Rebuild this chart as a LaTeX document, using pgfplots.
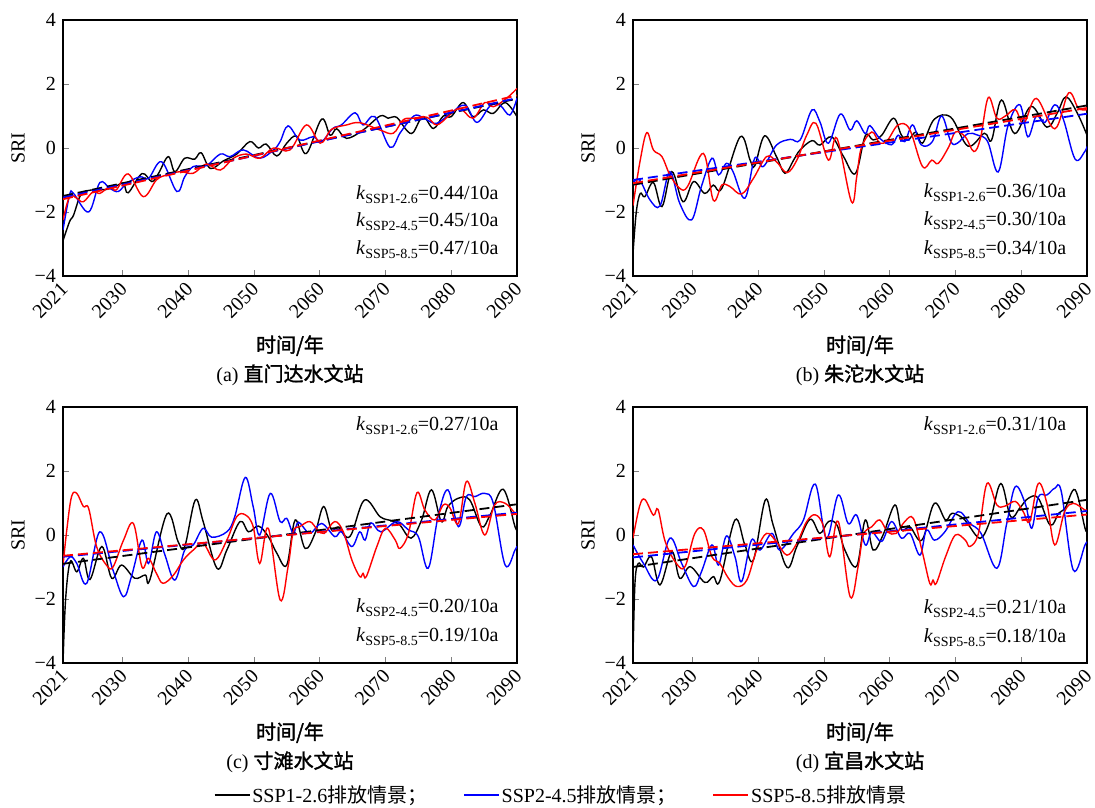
\documentclass[border=0pt]{standalone}
\usepackage{fontspec}
\setmainfont{Liberation Serif}
\newfontfamily\cjk{Noto Sans CJK SC}
\newfontfamily\cjkb{Noto Sans CJK SC}[FakeBold=1.6]
\usepackage{pgfplots}
\pgfplotsset{compat=1.18}
\newcommand{\kk}[2]{\textit{k}\raisebox{-0.45ex}{\scriptsize SSP#1}=#2/10a}
\pgfplotsset{
  myax/.style={
    scale only axis, width=227pt, height=128pt,
    xmin=2021, xmax=2090, ymin=-4, ymax=4,
    xtick={2021,2030,2040,2050,2060,2070,2080,2090},
    xticklabels={2021,2030,2040,2050,2060,2070,2080,2090},
    ytick={-4,-2,0,2,4},
    yticklabels={−4,−2,0,2,4},
    tick pos=left, tick align=inside,
    major tick length=3pt,
    x tick label style={rotate=45, anchor=north east, inner sep=0.5pt, xshift=-2.5pt},
    ylabel={SRI},
    ylabel style={at={(axis description cs:-0.099,0.5)}, anchor=center},
    xlabel style={at={(axis description cs:0.5,-0.33)}, anchor=center, align=center},
    axis line style={line width=0.6pt},
    every axis plot/.append style={line width=0.7pt},
  },
  tr/.style={line width=0.9pt, dash pattern=on 5pt off 2.5pt, forget plot},
  cv/.style={smooth, tension=0.6, mark=none},
}
\begin{document}
\begin{tikzpicture}
\path[use as bounding box] (0,0) rectangle (547.5pt,-403.5pt);
% ---------------- (a)
\begin{axis}[myax, at={(31.5pt,-10pt)}, anchor=north west,
  xlabel={{\cjkb 时间/年}\\[2.5pt](a) {\cjkb 直门达水文站}}]
\addplot[cv, black] coordinates {(2021,-2.9) (2022,-2.3) (2022.6,-2.1) (2023.6,-1.5) (2024.5,-1.35) (2026,-1.3) (2027.5,-1.3) (2029,-1.2) (2030.2,-1.1) (2030.9,-1.4) (2033,-0.8) (2034.5,-1.05) (2035.5,-0.8) (2037,-0.27) (2038,-0.74) (2039.5,-0.32) (2041,-0.35) (2042,-0.15) (2043.4,-0.64) (2045.4,-0.4) (2047.4,-0.19) (2049.4,0.2) (2050.7,0) (2051.9,0.12) (2053.5,-0.25) (2055,0.15) (2056.5,0.37) (2058,-0.17) (2060.3,0.9) (2061.6,0.4) (2062.6,0.6) (2064.1,0.3) (2066.6,0.56) (2069.2,1.0) (2070.4,0.93) (2071.7,0.96) (2073.2,0.56) (2074.2,0.48) (2075.7,0.98) (2077.3,0.61) (2078.8,1.0) (2080,0.98) (2081.8,1.42) (2083.3,0.98) (2084.9,1.19) (2086.4,1.08) (2088.2,1.42) (2090,0.98)};
\addplot[cv, blue] coordinates {(2021,-2.56) (2022,-1.47) (2022.6,-1.42) (2024.9,-2.0) (2026.6,-1.08) (2028.1,-1.26) (2029.4,-1.36) (2030.7,-1.1) (2032.7,-0.9) (2034,-0.95) (2036,-0.43) (2038.3,-1.36) (2039.5,-0.9) (2040.8,-0.58) (2042.8,-0.55) (2044.9,-0.19) (2046.4,-0.27) (2048.4,-0.06) (2050.9,-0.32) (2053,-0.06) (2054,0.2) (2055.2,0.69) (2057,0.25) (2059,0.35) (2060.3,0.2) (2062,0.61) (2063.3,0.72) (2065.4,1.1) (2066.6,0.72) (2068.4,0.98) (2070.7,0.02) (2072.2,0.46) (2073.5,0.82) (2074.7,1.03) (2076.3,0.88) (2077.8,0.77) (2079.8,1.06) (2082.1,1.34) (2083.9,0.8) (2085.9,1.31) (2087.4,1.34) (2088.9,1.03) (2090,1.55)};
\addplot[cv, red] coordinates {(2021,-2.25) (2022,-1.52) (2023.1,-1.57) (2024.1,-1.68) (2025.6,-1.36) (2026.6,-1.42) (2028.1,-1.21) (2029.1,-1.31) (2030.9,-0.81) (2033.2,-1.52) (2035.2,-1.0) (2036.8,-0.84) (2038.8,-0.74) (2040.8,-0.79) (2042.8,-0.5) (2044.9,-0.69) (2046.9,-0.32) (2048.9,-0.19) (2050.9,-0.32) (2053,0) (2055.5,-0.06) (2058,0.72) (2060.1,0.15) (2061.8,0.58) (2064.1,0.72) (2066.1,0.79) (2069.2,0.56) (2071.2,0.46) (2072.7,0.88) (2074.2,0.93) (2076.3,0.96) (2077.8,0.72) (2079.6,1.0) (2081.3,1.24) (2083.3,0.93) (2085.1,1.42) (2086.4,1.29) (2088.4,1.55) (2090,1.86)};
\addplot[tr, black] coordinates {(2021,-1.5) (2090,1.54)};
\addplot[tr, blue] coordinates {(2021,-1.55) (2090,1.56)};
\addplot[tr, red] coordinates {(2021,-1.6) (2090,1.64)};
\node[anchor=east] at (rel axis cs:0.975,0.316) {\kk{1-2.6}{0.44}};
\node[anchor=east] at (rel axis cs:0.975,0.213) {\kk{2-4.5}{0.45}};
\node[anchor=east] at (rel axis cs:0.975,0.102) {\kk{5-8.5}{0.47}};
\end{axis}
% ---------------- (b)
\begin{axis}[myax, at={(316.5pt,-10pt)}, anchor=north west,
  xlabel={{\cjkb 时间/年}\\[2.5pt](b) {\cjkb 朱沱水文站}}]
\addplot[cv, black] coordinates {(2021,-3.3) (2021.5,-2.0) (2022.1,-1.42) (2022.8,-1.52) (2024.1,-1.08) (2025.4,-1.83) (2026.9,-0.74) (2028.6,-1.68) (2030.2,-1.05) (2031.9,-1.42) (2033.2,-1.16) (2034.5,-1.26) (2037.3,0.35) (2038.8,-0.38) (2039.5,-0.56) (2041,0.38) (2042.8,-0.27) (2044.1,-0.79) (2045.4,-0.38) (2046.4,-0.06) (2048.2,0.23) (2049.4,0.09) (2051.2,0.35) (2053,-0.27) (2054.8,-0.8) (2056.3,0.38) (2057.5,0.25) (2058.8,0.4) (2060.6,0.93) (2061.8,0.4) (2062.8,0.25) (2064,0.5) (2065,0.15) (2066.8,0.9) (2069.3,0.96) (2071.9,0.06) (2074.4,0.46) (2075.5,0.25) (2077,1.5) (2079,0.45) (2081.5,1.3) (2083.9,0.65) (2085.5,1.1) (2086.8,1.6) (2088.5,1.1) (2090,0.4)};
\addplot[cv, blue] coordinates {(2021,-1.1) (2022,-1.0) (2023.6,-1.63) (2025.1,-1.81) (2026.6,-0.74) (2028.1,-1.73) (2029.9,-2.25) (2031.4,-1.2) (2033,-0.32) (2034,-0.84) (2035.2,-0.48) (2036.2,-0.74) (2038,-1.57) (2039.5,-0.32) (2040.8,-0.58) (2042.8,0.09) (2044.9,0.27) (2046.4,0.25) (2048.2,1.19) (2049.4,0.82) (2050.7,0.15) (2052.5,1.06) (2054,0.56) (2055,0.85) (2056.3,0.45) (2057,0.7) (2058.5,0.3) (2060.3,0.1) (2061.3,0.4) (2062.3,0.2) (2063.5,0.72) (2064.8,0.1) (2066.5,0.2) (2067.9,1.0) (2069.3,0.2) (2070.3,0.15) (2071.9,0.45) (2073.4,0.4) (2074.9,0.2) (2076.5,-0.75) (2078,0.7) (2079.8,1.35) (2081,0.35) (2082.3,1.0) (2083.6,0.8) (2085.1,1.35) (2086.4,0.9) (2088.2,-0.35) (2089.7,-0.1) (2090,0.05)};
\addplot[cv, red] coordinates {(2021,-1.8) (2022.1,-0.38) (2023.1,0.48) (2024.1,-0.06) (2025.4,-0.27) (2026.6,-0.84) (2028.1,-1.26) (2029.3,-1.2) (2031.7,-0.17) (2033.2,-1.63) (2034.5,-1.16) (2035.7,-1.2) (2037.5,-1.44) (2039.3,-0.95) (2041.3,-0.27) (2042.8,-0.43) (2044.4,-0.77) (2045.9,-0.38) (2047.4,0.4) (2048.8,0.77) (2050.7,-0.38) (2052,0.3) (2054.2,-1.68) (2055,-0.9) (2055.7,0) (2057.3,0.5) (2058.5,0.15) (2059.7,0.25) (2061.3,0.72) (2063,0.6) (2065,-0.58) (2066.4,-0.38) (2067.4,-0.48) (2069,0.04) (2070,0.5) (2071.5,0.35) (2072.8,-0.11) (2073.8,0.3) (2075,1.58) (2076.3,0.93) (2077.6,1.0) (2079.1,1.2) (2080.4,0.77) (2082.3,1.55) (2085.1,0.6) (2087.2,1.72) (2088.7,1.24) (2090,1.2)};
\addplot[tr, black] coordinates {(2021,-1.15) (2090,1.33)};
\addplot[tr, blue] coordinates {(2021,-1.0) (2090,1.07)};
\addplot[tr, red] coordinates {(2021,-1.1) (2090,1.25)};
\node[anchor=east] at (rel axis cs:0.97,0.326) {\kk{1-2.6}{0.36}};
\node[anchor=east] at (rel axis cs:0.97,0.215) {\kk{2-4.5}{0.30}};
\node[anchor=east] at (rel axis cs:0.97,0.104) {\kk{5-8.5}{0.34}};
\end{axis}
% ---------------- (c)
\begin{axis}[myax, at={(31.5pt,-203.5pt)}, anchor=north west,
  xlabel={{\cjkb 时间/年}\\[2.5pt](c) {\cjkb 寸滩水文站}},
  legend columns=3,
  legend style={at={(axis description cs:1.097,-0.516)}, anchor=center, draw=none, fill=none,
    /tikz/every even column/.append style={column sep=17pt},
    nodes={inner sep=1pt}},
  legend image code/.code={\draw[#1, line width=0.7pt] (0pt,0pt) -- (17.5pt,0pt);}]
\addplot[cv, black] coordinates {(2021,-4.0) (2021.4,-2.0) (2022.1,-0.83) (2023.1,-1.15) (2024.1,-0.73) (2025.1,-1.39) (2026.9,-0.36) (2028.4,-1.35) (2029.9,-0.94) (2031.9,-1.35) (2033.5,-1.25) (2034.2,-1.4) (2036.8,0.66) (2038.5,-0.21) (2039.5,-0.36) (2041.1,1.09) (2042.3,0.42) (2044.4,-1.04) (2045.9,-0.47) (2047.9,0.42) (2049.2,0.1) (2050.7,0.28) (2052.2,-0.05) (2053.5,-0.57) (2055,-0.94) (2056.3,0.47) (2057.8,-0.42) (2059.3,0.05) (2060.6,0.89) (2061.8,0.16) (2062.8,0.25) (2064.6,-0.05) (2066.8,1.09) (2069.2,0.57) (2070.9,0.45) (2072.2,0.31) (2073.9,-0.1) (2075.5,0.47) (2077,1.41) (2078.5,0.42) (2079.5,0.89) (2081.1,1.15) (2082.8,1.1) (2084.6,0.26) (2085.9,0.62) (2087.9,1.43) (2089.7,0.26) (2090,0.2)};
\addlegendentry{SSP1-2.6{\cjk 排放情景；}}
\addplot[cv, blue] coordinates {(2021,-1.0) (2022.1,-0.68) (2023.1,-0.89) (2024.6,-1.51) (2026.6,0.1) (2028.6,-1.1) (2030.2,-1.93) (2031.4,-1.3) (2033,-0.16) (2034,-0.89) (2035.2,0.1) (2036.5,-0.63) (2038,-1.41) (2039.5,-0.47) (2040.8,-0.31) (2042.3,0.21) (2043.6,-0.07) (2045.9,0.1) (2047.1,0.57) (2048.7,1.8) (2049.9,0.89) (2050.9,0) (2052.5,1.3) (2054,0.42) (2055,0.52) (2056,0.05) (2056.8,0.4) (2058.5,0.05) (2060.3,0.36) (2062.3,-0.05) (2063.3,0.1) (2064.9,-0.36) (2066.1,0.1) (2066.9,-0.16) (2067.8,0.38) (2069.3,0.1) (2071.7,0.42) (2073.5,0.16) (2075,-0.05) (2076.5,-1.04) (2078,0.57) (2079.5,1.41) (2081.1,0.26) (2082.3,1.2) (2083.6,1.2) (2085.1,1.3) (2086.4,0.99) (2088.2,-0.94) (2089.7,-0.47) (2090,-0.35)};
\addlegendentry{SSP2-4.5{\cjk 排放情景；}}
\addplot[cv, red] coordinates {(2021,-0.95) (2021.6,0.2) (2022.3,1.2) (2023.1,1.3) (2024.1,0.89) (2024.9,0.83) (2026.1,-0.36) (2027.6,-0.94) (2028.6,-1.0) (2030.2,-0.16) (2031.7,0.36) (2033,-1.0) (2034,-0.73) (2035.2,-1.2) (2036.2,-1.51) (2037.8,-1.25) (2039.3,-0.78) (2040.8,-0.47) (2042.3,-0.26) (2044.1,-0.78) (2045.9,-0.16) (2047.4,0.57) (2048.7,0.63) (2049.9,0.26) (2050.9,-0.89) (2052.2,0.21) (2054,-2.03) (2055.2,-1.0) (2056,0.1) (2057,0.26) (2058.5,0.42) (2059.7,0.16) (2060.7,0.05) (2062.3,0.42) (2063.6,0.1) (2064.9,-0.78) (2066.1,-1.3) (2066.6,-1.2) (2067.1,-1.3) (2068.7,-0.36) (2070,0.21) (2071.5,-0.16) (2072.2,-0.42) (2073.5,0.05) (2074.8,1.32) (2076,0.78) (2077.5,0.47) (2078.8,0.94) (2079.8,0.85) (2081.1,0.36) (2082.3,1.67) (2083.6,0.99) (2085.1,0) (2086.6,0.94) (2088.2,0.99) (2089.7,0.68) (2090,0.65)};
\addlegendentry{SSP5-8.5{\cjk 排放情景}}
\addplot[tr, black] coordinates {(2021,-0.9) (2090,0.96)};
\addplot[tr, blue] coordinates {(2021,-0.68) (2090,0.7)};
\addplot[tr, red] coordinates {(2021,-0.65) (2090,0.66)};
\node[anchor=east] at (rel axis cs:0.975,0.926) {\kk{1-2.6}{0.27}};
\node[anchor=east] at (rel axis cs:0.975,0.215) {\kk{2-4.5}{0.20}};
\node[anchor=east] at (rel axis cs:0.975,0.103) {\kk{5-8.5}{0.19}};
\end{axis}
% ---------------- (d)
\begin{axis}[myax, at={(316.5pt,-203.5pt)}, anchor=north west,
  xlabel={{\cjkb 时间/年}\\[2.5pt](d) {\cjkb 宜昌水文站}}]
\addplot[cv, black] coordinates {(2021,-3.8) (2021.3,-1.5) (2021.8,-0.89) (2022.6,-1.0) (2023.8,-0.68) (2025.1,-1.56) (2026.9,-0.52) (2028.1,-1.35) (2029.7,-0.99) (2031.9,-1.48) (2033.2,-1.3) (2034.2,-1.43) (2036.5,0.47) (2038,-0.31) (2039.3,-0.78) (2041.1,1.09) (2042.3,0.31) (2044.4,-1.01) (2045.9,-0.36) (2047.9,0.49) (2049.4,0.05) (2050.7,0.42) (2052,0.31) (2053.2,-0.47) (2055,-0.97) (2056.3,0.47) (2057.5,-0.47) (2059,0) (2060.8,0.94) (2061.8,0.16) (2063.1,0.25) (2064.9,-0.16) (2066.8,0.99) (2068.5,0.47) (2069.5,0.68) (2071.2,0.52) (2072,0.31) (2073.8,-0.1) (2075.3,0.47) (2076.9,1.61) (2078.4,0.57) (2079.8,0.85) (2081.1,1.15) (2082.6,1.15) (2084.4,0.31) (2085.7,0.68) (2086.7,0.85) (2088.2,1.41) (2089.7,0.21) (2090,0.15)};
\addplot[cv, blue] coordinates {(2021,-0.31) (2022.6,-0.89) (2024.6,-1.41) (2026.6,-0.1) (2028.4,-0.89) (2030.2,-1.61) (2031.4,-1.15) (2033,-0.31) (2034,-0.94) (2035.2,-0.03) (2036.5,-0.68) (2037.5,-1.46) (2039,-0.16) (2040.3,-0.47) (2042.1,0.05) (2043.3,-0.47) (2045.4,0.05) (2046.9,0.47) (2048.7,1.59) (2050.4,-0.1) (2052.2,1.25) (2053.7,0.36) (2055,0.62) (2056.3,-0.31) (2057.3,0.1) (2058.8,-0.2) (2060.3,0.42) (2061.8,-0.1) (2063.1,0.05) (2064.6,-0.63) (2065.6,0.16) (2066.8,-0.16) (2068.4,0.1) (2070.4,0.73) (2072.2,0.36) (2073.9,0.05) (2076.3,-1.04) (2077.8,0.36) (2079.1,1.51) (2080.6,0.99) (2081.6,0.21) (2082.6,1.19) (2083.9,1.25) (2085.1,1.46) (2086.1,1.35) (2087.9,-1.09) (2089.7,-0.31) (2090,-0.25)};
\addplot[cv, red] coordinates {(2021,-0.1) (2022,0.9) (2022.8,1.11) (2024.1,0.62) (2024.8,0.8) (2025.9,-0.21) (2027.6,-0.89) (2028.9,-0.99) (2030.4,0.05) (2031.7,0.16) (2033,-0.68) (2034.2,-0.89) (2035.5,-1.35) (2036.8,-1.61) (2038.3,-1.41) (2039.8,-0.47) (2041.3,0.05) (2042.8,-0.21) (2044.4,-0.63) (2045.9,-0.26) (2047.4,0.42) (2048.7,0.63) (2049.9,0.3) (2050.9,-0.68) (2052.2,0.42) (2054,-1.93) (2055.2,-1.0) (2056,0) (2057.3,0.26) (2058.5,0.47) (2059.7,0.1) (2061,0.05) (2062.3,0.42) (2063.6,0.52) (2064.9,-0.47) (2066.1,-1.51) (2066.6,-1.41) (2067.1,-1.51) (2068.5,-0.68) (2070,0) (2071.5,-0.16) (2072.2,-0.36) (2073.5,0.05) (2074.8,1.61) (2076.3,0.94) (2077.5,0.9) (2079.1,1.05) (2080.3,0.73) (2081.3,0.42) (2082.6,1.61) (2083.9,0.99) (2085.1,-0.31) (2086.6,0.73) (2087.9,0.99) (2089.7,0.78) (2090,0.8)};
\addplot[tr, black] coordinates {(2021,-1.0) (2090,1.1)};
\addplot[tr, blue] coordinates {(2021,-0.7) (2090,0.75)};
\addplot[tr, red] coordinates {(2021,-0.6) (2090,0.64)};
\node[anchor=east] at (rel axis cs:0.97,0.926) {\kk{1-2.6}{0.31}};
\node[anchor=east] at (rel axis cs:0.97,0.211) {\kk{2-4.5}{0.21}};
\node[anchor=east] at (rel axis cs:0.97,0.1) {\kk{5-8.5}{0.18}};
\end{axis}
\end{tikzpicture}
\end{document}
